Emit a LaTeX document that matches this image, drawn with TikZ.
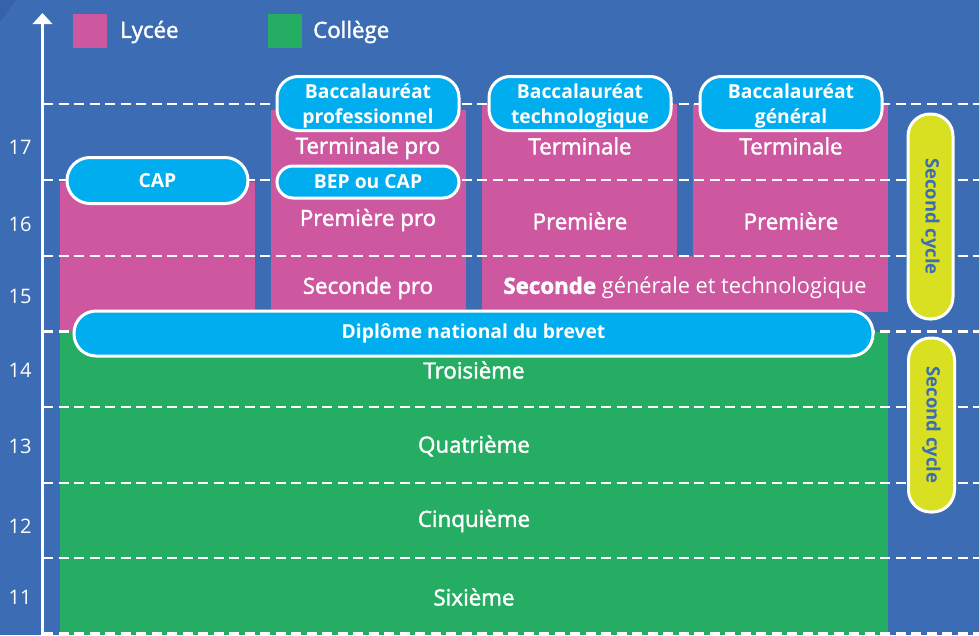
\documentclass[tikz,border=0pt]{standalone}
\usepackage{fontspec}
\setmainfont{Open Sans}
\newfontfamily\semib{Open Sans}[FakeBold=1.8]
\definecolor{bgblue}{HTML}{3C6DB4}
\definecolor{darkblue}{HTML}{3562A9}
\definecolor{lpink}{HTML}{CE58A0}
\definecolor{cgreen}{HTML}{26AD64}
\definecolor{pillcyan}{HTML}{00ADEE}
\definecolor{pillyellow}{HTML}{D9DF21}
\begin{document}
\begin{tikzpicture}[x=1pt,y=-1pt,
  gridline/.style={white,line width=2.6pt,dash pattern=on 10pt off 5.5pt},
  label/.style={text=white,font=\semib\fontsize{22.3}{24}\selectfont,inner sep=0pt},
  yearlbl/.style={text=white,font=\fontsize{20}{22}\selectfont,inner sep=0pt},
  pill/.style={draw=white,line width=3pt,fill=pillcyan,text=white,
    font=\bfseries\fontsize{19.3}{25}\selectfont,align=center,inner sep=0pt},
  pilltext/.style={text=white,font=\bfseries\fontsize{19.3}{25}\selectfont,align=center,inner sep=0pt},
  ypill/.style={draw=white,line width=3pt,fill=pillyellow,text=bgblue,
    font=\bfseries\fontsize{18.5}{20}\selectfont,inner sep=0pt}]
\useasboundingbox (0,0) rectangle (979,635);
\fill[bgblue] (0,0) rectangle (979,635);
\fill[darkblue] (0,0) -- (16,0) -- (0,22) -- cycle;
% legend
\fill[lpink] (73,14) rectangle (107,48);
\node[label,anchor=west] (lyc) at (120,32) {Lycée};
\fill[cgreen] (268,14) rectangle (302,48);
\node[label,anchor=west] (col) at (313,32) {Collège};
% blocks
\fill[lpink] (60,182) rectangle (255,332);
\fill[lpink] (271,110) rectangle (466,312);
\fill[lpink] (482,104) rectangle (677,257);
\fill[lpink] (693,104) rectangle (888,257);
\fill[lpink] (482,256) rectangle (888,312);
\fill[cgreen] (60,332) rectangle (888,635);
% axis
\draw[white,line width=2.6pt] (42.5,635) -- (42.5,23);
\fill[white] (32.5,24) -- (42.5,13) -- (52.5,24) -- cycle;
% dashed lines
\foreach \yy in {104,180,256,331.5,407,483,558,633.5}
  \draw[gridline] (43,\yy) -- (979,\yy);
% years
\node[yearlbl] (y17) at (20,147) {17};
\node[yearlbl] (y16) at (20,224) {16};
\node[yearlbl] (y15) at (20,296) {15};
\node[yearlbl] (y14) at (20,370) {14};
\node[yearlbl] (y13) at (20,446) {13};
\node[yearlbl] (y12) at (20,526) {12};
\node[yearlbl] (y11) at (20,597) {11};
% texts in blocks
\node[label] (tpro) at (368,148) {Terminale pro};
\node[label] (ppro) at (368,220) {Première pro};
\node[label] (spro) at (368,288) {Seconde pro};
\node[label] (tt) at (580,146) {Terminale};
\node[label] (pt) at (580,221) {Première};
\node[label] (tg) at (791,146) {Terminale};
\node[label] (pg) at (791,221) {Première};
\node[label] (sgt) at (685,288) {{\bfseries Seconde} {\normalfont\fontsize{21.8}{24}\selectfont générale et technologique}};
\node[label] (troi) at (474,370) {Troisième};
\node[label] (quat) at (474,446) {Quatrième};
\node[label] (cinq) at (474,521) {Cinquième};
\node[label] (sixi) at (474,597) {Sixième};
% pills
\node[pill,minimum width=181pt,minimum height=46pt,rounded corners=23pt] (cap) at (157.5,180.5) {CAP};
\node[pill,minimum width=182pt,minimum height=54pt,rounded corners=21pt] (bpro) at (368,103.5) {};
\node[pilltext] (bprot) at (368,105.5) {Baccalauréat\\professionnel};
\node[pill,minimum width=182pt,minimum height=54pt,rounded corners=21pt] (btech) at (580,103.5) {};
\node[pilltext] (btecht) at (580,105.5) {Baccalauréat\\technologique};
\node[pill,minimum width=182pt,minimum height=54pt,rounded corners=21pt] (bgen) at (791,103.5) {};
\node[pilltext] (bgent) at (791,105.5) {Baccalauréat\\général};
\node[pill,minimum width=182pt,minimum height=32pt,rounded corners=16pt] (bep) at (368,182) {BEP ou CAP};
\node[pill,minimum width=799pt,minimum height=45pt,rounded corners=22pt] (dnb) at (473.5,333.5) {Diplôme national du brevet};
\node[ypill,minimum width=45pt,minimum height=205pt,rounded corners=22pt] (sc1) at (930.5,216.5) {\rotatebox{-90}{Second cycle}};
\node[ypill,minimum width=46pt,minimum height=174pt,rounded corners=22pt] (sc2) at (931.5,425) {\rotatebox{-90}{Second cycle}};
\end{tikzpicture}
\end{document}
